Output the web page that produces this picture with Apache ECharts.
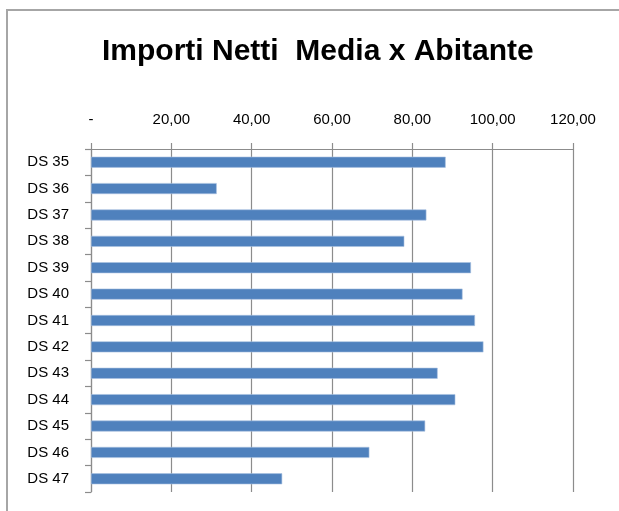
<!DOCTYPE html>
<html>
<head>
<meta charset="utf-8">
<script src="https://cdn.jsdelivr.net/npm/echarts@6/dist/echarts.min.js"></script>
<style>
html,body{margin:0;padding:0;background:#fff;}
#c{width:619px;height:511px;}
</style>
</head>
<body>
<div id="c"></div>
<script>
var titleText = 'Importi Netti  Media x Abitante';
var categories = ['DS 35','DS 36','DS 37','DS 38','DS 39','DS 40','DS 41','DS 42','DS 43','DS 44','DS 45','DS 46','DS 47'];
var values = [88.3, 31.3, 83.5, 78.0, 94.6, 92.5, 95.6, 97.7, 86.3, 90.7, 83.2, 69.3, 47.6];
var tickValues = [0, 20, 40, 60, 80, 100, 120];
var tickLabels = ['-', '20,00', '40,00', '60,00', '80,00', '100,00', '120,00'];

var chart = echarts.init(document.getElementById('c'), null, {renderer: 'canvas'});
chart.setOption({
  animation: false,
  backgroundColor: '#ffffff',
  graphic: [
    {type: 'line', shape: {x1: 7, y1: 10, x2: 7, y2: 511}, style: {stroke: '#a6a6a6', lineWidth: 2}, z: 100},
    {type: 'line', shape: {x1: 6, y1: 10, x2: 619, y2: 10}, style: {stroke: '#a6a6a6', lineWidth: 2}, z: 100}
  ],
  title: {
    text: titleText,
    left: 97,
    top: 32,
    textStyle: {fontFamily: 'Liberation Sans', fontWeight: 'bold', fontSize: 30, color: '#000'}
  },
  grid: {left: 91, right: 46, top: 149, bottom: 19, containLabel: false},
  xAxis: {
    type: 'value',
    position: 'top',
    min: 0, max: 120, interval: 20,
    axisLine: {show: true, lineStyle: {color: '#8c8c8c', width: 1.2}},
    axisTick: {show: true, length: 6, lineStyle: {color: '#8c8c8c', width: 1.2}},
    splitLine: {show: true, lineStyle: {color: '#8c8c8c', width: 1.2}},
    axisLabel: {
      margin: 22,
      fontFamily: 'Liberation Sans', fontSize: 15, color: '#000',
      formatter: function (v) { var i = tickValues.indexOf(v); return i >= 0 ? tickLabels[i] : ''; }
    }
  },
  yAxis: {
    type: 'category',
    data: categories,
    inverse: true,
    axisLine: {show: true, lineStyle: {color: '#8c8c8c', width: 1.2}},
    axisTick: {show: true, length: 6, lineStyle: {color: '#8c8c8c', width: 1.2}},
    axisLabel: {margin: 22, padding: [4, 0, 0, 0], fontFamily: 'Liberation Sans', fontSize: 15, color: '#000'}
  },
  series: [{
    type: 'bar',
    data: values,
    barWidth: 11,
    itemStyle: {color: '#4f81bd', borderColor: '#a9c1e0', borderWidth: 0.6}
  }]
});
</script>
</body>
</html>
